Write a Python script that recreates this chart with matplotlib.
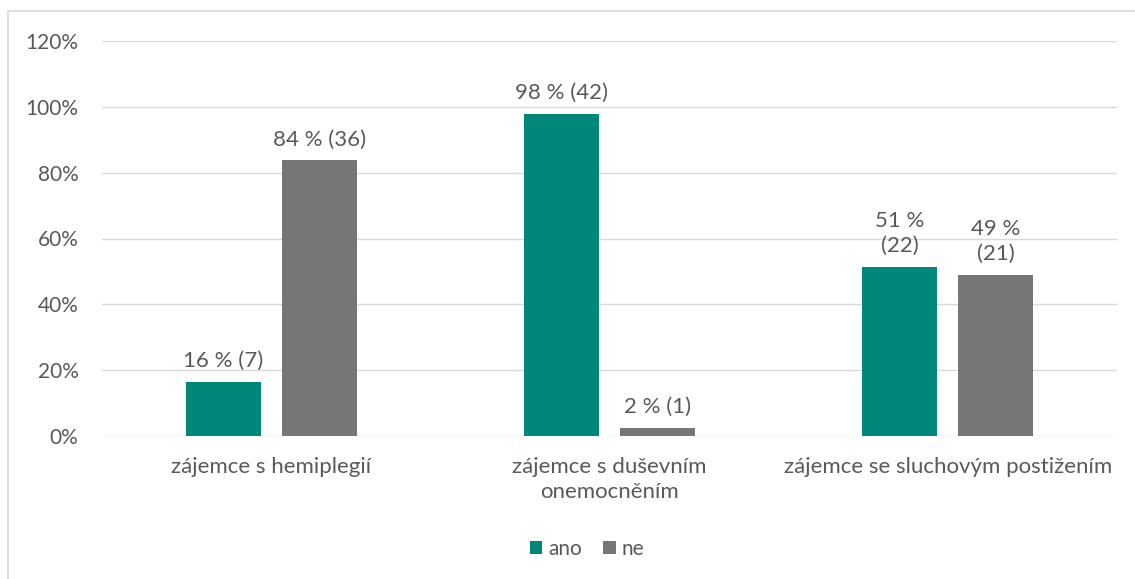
import matplotlib.pyplot as plt
import numpy as np
from matplotlib.patches import Rectangle

plt.rcParams['font.family'] = ['Lato', 'DejaVu Sans']

categories = ['zájemce s hemiplegií', 'zájemce s duševním\nonemocněním', 'zájemce se sluchovým postižením']
ano_values = [16.3, 97.7, 51.2]
ne_values = [83.7, 2.3, 48.8]
ano_labels = ['16 % (7)', '98 % (42)', '51 %\n(22)']
ne_labels = ['84 % (36)', '2 % (1)', '49 %\n(21)']
yticks = [0, 20, 40, 60, 80, 100, 120]

green = '#00877A'
grey = '#767676'
text_col = '#595959'
fs = 16

fig = plt.figure(figsize=(11.35, 5.79), dpi=100)
fig.patches.append(Rectangle((8 / 1135, -0.1), 1.2, 1 - 11 / 579 + 0.1, transform=fig.transFigure,
                             fill=False, edgecolor='#D9D9D9', linewidth=1.2))
ax = fig.add_axes([102 / 1135, 1 - 436 / 579, 1015 / 1135, 395 / 579])

x = np.arange(len(categories))
w = 0.222
off = (w + 0.062) / 2
b1 = ax.bar(x - off, ano_values, w, color=green, label='ano', zorder=3)
b2 = ax.bar(x + off, ne_values, w, color=grey, label='ne', zorder=3)

for bars, labels in [(b1, ano_labels), (b2, ne_labels)]:
    for bar, lab in zip(bars, labels):
        ax.annotate(lab, (bar.get_x() + bar.get_width() / 2, bar.get_height()),
                    xytext=(0, 8), textcoords='offset points', ha='center', va='bottom',
                    fontsize=fs, color=text_col, linespacing=1.35)

ax.set_xlim(-0.5, 2.5)
ax.set_ylim(0, 120)
ax.set_yticks(yticks)
ax.set_yticklabels([f'{t}%' for t in yticks], fontsize=15)
ax.set_xticks(x)
ax.set_xticklabels(categories, linespacing=1.35, fontsize=fs)
ax.tick_params(axis='both', length=0, colors=text_col)
ax.tick_params(axis='y', pad=17)
ax.tick_params(axis='x', pad=15)
ax.grid(axis='y', color='#D9D9D9', linewidth=1, zorder=0)
for s in ax.spines.values():
    s.set_visible(False)

ax.legend(loc='center', bbox_to_anchor=(0.478, -0.285), ncol=2, frameon=False,
          fontsize=15, labelcolor=text_col, handlelength=0.6, handleheight=0.6,
          handletextpad=0.3, columnspacing=1.0)

fig.savefig('out.png', dpi=100)
